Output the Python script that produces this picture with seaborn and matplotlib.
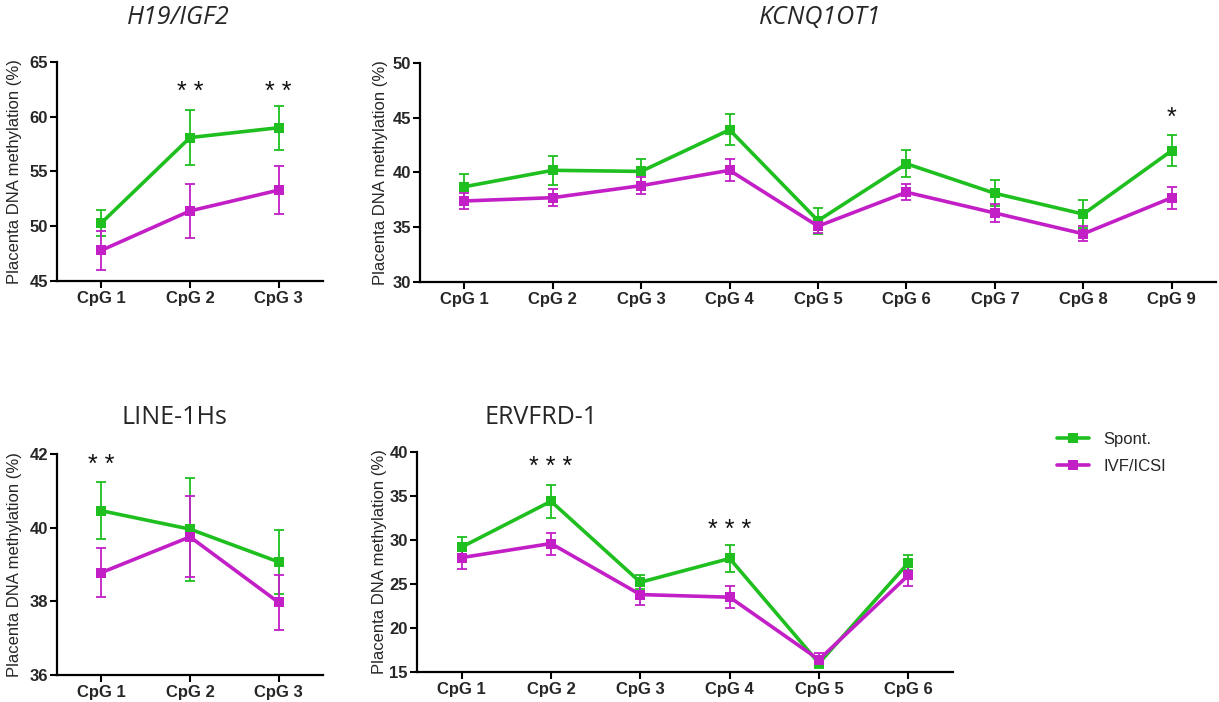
import numpy as np
import pandas as pd
import matplotlib
matplotlib.use("Agg")
import matplotlib.pyplot as plt
import matplotlib.transforms as mtrans
import seaborn as sns

# ---------------- data ----------------
groups = ["Spont.", "IVF/ICSI"]
colors = ["#1fbf1f", "#c21fc7"]

h19_cats = ["CpG 1", "CpG 2", "CpG 3"]
h19_spont = [50.3, 58.1, 59.0]
h19_spont_err = [1.2, 2.5, 2.0]
h19_ivf = [47.8, 51.4, 53.3]
h19_ivf_err = [1.8, 2.5, 2.2]
h19_stars = {1: "* *", 2: "* *"}

kcn_cats = ["CpG 1", "CpG 2", "CpG 3", "CpG 4", "CpG 5", "CpG 6", "CpG 7", "CpG 8", "CpG 9"]
kcn_spont = [38.7, 40.2, 40.1, 43.9, 35.6, 40.8, 38.1, 36.2, 42.0]
kcn_spont_err = [1.2, 1.3, 1.15, 1.4, 1.2, 1.25, 1.2, 1.25, 1.4]
kcn_ivf = [37.4, 37.7, 38.8, 40.2, 35.1, 38.2, 36.3, 34.4, 37.7]
kcn_ivf_err = [0.7, 0.8, 0.8, 1.0, 0.65, 0.75, 0.85, 0.7, 1.0]
kcn_stars = {8: "*"}

line_cats = ["CpG 1", "CpG 2", "CpG 3"]
line_spont = [40.46, 39.96, 39.07]
line_spont_err = [0.77, 1.4, 0.88]
line_ivf = [38.78, 39.75, 37.97]
line_ivf_err = [0.66, 1.1, 0.75]
line_stars = {0: "* *"}

erv_cats = ["CpG 1", "CpG 2", "CpG 3", "CpG 4", "CpG 5", "CpG 6"]
erv_spont = [29.2, 34.4, 25.2, 27.9, 16.0, 27.4]
erv_spont_err = [1.15, 1.9, 0.8, 1.5, 0.6, 0.85]
erv_ivf = [28.0, 29.6, 23.8, 23.5, 16.4, 26.0]
erv_ivf_err = [1.3, 1.25, 1.2, 1.25, 0.75, 1.2]
erv_stars = {1: "* * *", 3: "* * *"}

# ---------------- style ----------------
sns.set_style("ticks")
plt.rcParams["font.family"] = ["Liberation Sans", "DejaVu Sans"]

W, H = 1219, 702
fig = plt.figure(figsize=(W / 100, H / 100), dpi=100)


def rect(l, r, t, b):
    return [l / W, 1 - b / H, (r - l) / W, (b - t) / H]


panels = [
    dict(rect=rect(57, 323, 62, 281), cats=h19_cats, s=h19_spont, se=h19_spont_err,
         i=h19_ivf, ie=h19_ivf_err, ylim=(45, 65), yticks=[45, 50, 55, 60, 65],
         stars=h19_stars, star_y=62.3, ylab_x=14.5,
         title="H19/IGF2", title_xy=(178, 17), italic=True),
    dict(rect=rect(420, 1216, 63, 282), cats=kcn_cats, s=kcn_spont, se=kcn_spont_err,
         i=kcn_ivf, ie=kcn_ivf_err, ylim=(30, 50), yticks=[30, 35, 40, 45, 50],
         stars=kcn_stars, star_y=45.0, ylab_x=380,
         title="KCNQ1OT1", title_xy=(820, 17), italic=True),
    dict(rect=rect(57, 323, 454, 675), cats=line_cats, s=line_spont, se=line_spont_err,
         i=line_ivf, ie=line_ivf_err, ylim=(36, 42), yticks=[36, 38, 40, 42],
         stars=line_stars, star_y=41.7, ylab_x=14.5,
         title="LINE-1Hs", title_xy=(174, 418), italic=False),
    dict(rect=rect(417, 953, 452, 672), cats=erv_cats, s=erv_spont, se=erv_spont_err,
         i=erv_ivf, ie=erv_ivf_err, ylim=(15, 40), yticks=[15, 20, 25, 30, 35, 40],
         stars=erv_stars, star_y=None, ylab_x=379,
         title="ERVFRD-1", title_xy=(541, 418), italic=False),
]
erv_star_y = {1: 38.3, 3: 31.1}

legend_handles = None
for k, p in enumerate(panels):
    ax = fig.add_axes(p["rect"])
    n = len(p["cats"])
    df = pd.DataFrame({
        "pos": list(range(n)) * 2,
        "value": list(p["s"]) + list(p["i"]),
        "err": list(p["se"]) + list(p["ie"]),
        "group": [groups[0]] * n + [groups[1]] * n,
    })
    sns.lineplot(data=df, x="pos", y="value", hue="group", hue_order=groups,
                 palette=colors, marker="s", markersize=7, markeredgewidth=0,
                 linewidth=2.6, errorbar=None, ax=ax, legend=(k == 0))
    for g, c in zip(groups, colors):
        sub = df[df["group"] == g]
        ax.errorbar(sub["pos"], sub["value"], yerr=sub["err"], fmt="none",
                    ecolor=c, elinewidth=1.3, capsize=3.5, capthick=1.3, zorder=1)
    if k == 0:
        legend_handles, legend_labels = ax.get_legend_handles_labels()
        ax.legend_.remove()

    ax.set_xlim(-0.5, n - 0.5)
    ax.set_ylim(*p["ylim"])
    ax.set_xticks(range(n))
    ax.set_xticklabels(p["cats"], fontsize=12, fontweight="bold")
    ax.set_yticks(p["yticks"])
    ax.set_yticklabels([str(v) for v in p["yticks"]], fontsize=12, fontweight="bold")
    ax.set_xlabel("")
    ax.set_ylabel("Placenta DNA methylation (%)", fontsize=12)
    tr = mtrans.blended_transform_factory(fig.transFigure, ax.transAxes)
    ax.yaxis.set_label_coords(p["ylab_x"] / W, 0.5, transform=tr)
    ax.yaxis.label.set_va("center")
    for side in ["top", "right"]:
        ax.spines[side].set_visible(False)
    for side in ["left", "bottom"]:
        ax.spines[side].set_linewidth(1.6)
        ax.spines[side].set_color("black")
    ax.tick_params(axis="both", length=5, width=1.5, color="black")
    ax.tick_params(axis="y", pad=1.5)
    ax.tick_params(axis="x", pad=2)
    ax.patch.set_alpha(0)

    for idx, txt in p["stars"].items():
        yv = p["star_y"] if p["star_y"] is not None else erv_star_y[idx]
        ax.text(idx, yv, txt, ha="center", va="center", fontsize=18, color="#111111")

    fig.text(p["title_xy"][0] / W, 1 - p["title_xy"][1] / H, p["title"],
             ha="center", va="center", fontsize=18,
             style="italic" if p["italic"] else "normal",
             family=["Open Sans", "DejaVu Sans"])

fig.legend(legend_handles, legend_labels, loc="center left",
           bbox_to_anchor=(1042 / W, 1 - 453 / H), frameon=False, fontsize=12,
           handlelength=1.9, handletextpad=0.9, labelspacing=0.75)

fig.savefig("out.png", dpi=100)
